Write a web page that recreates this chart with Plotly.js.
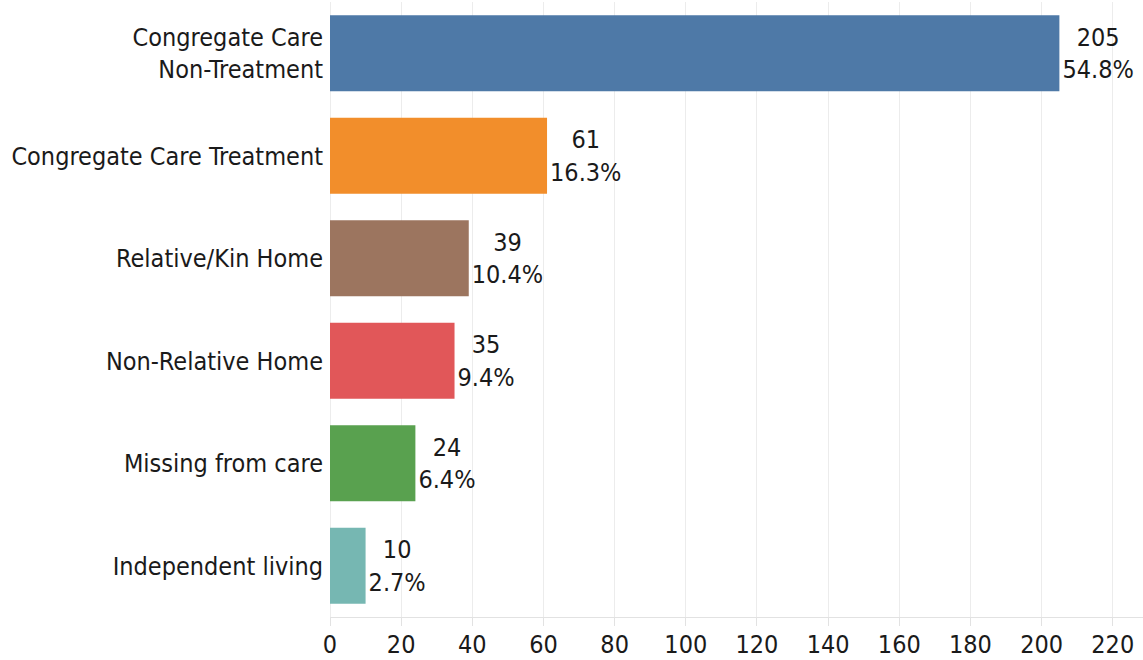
<!DOCTYPE html>
<html>
<head>
<meta charset="utf-8">
<script src="https://cdn.plot.ly/plotly-3.0.1.min.js"></script>
<style>
  html, body { margin: 0; padding: 0; background: #fff; }
  #chart { width: 1143px; height: 660px; }
</style>
</head>
<body>
<div id="chart"></div>
<script>
var categories = ['Congregate Care<br>Non-Treatment', 'Congregate Care Treatment', 'Relative/Kin Home',
  'Non-Relative Home', 'Missing from care', 'Independent living'];
var counts = [205, 61, 39, 35, 24, 10];
var percents = ['54.8%', '16.3%', '10.4%', '9.4%', '6.4%', '2.7%'];
var colors = ['#4e79a7', '#f28e2b', '#9c755f', '#e15759', '#59a14f', '#76b7b2'];
var xTicks = [0, 20, 40, 60, 80, 100, 120, 140, 160, 180, 200, 220];

var labels = counts.map(function (c, i) { return c + '<br>' + percents[i]; });

var font = 'DejaVu Sans Condensed, Arial Narrow, sans-serif';

var trace = {
  type: 'bar',
  orientation: 'h',
  x: counts,
  y: categories,
  text: labels,
  textposition: 'outside',
  cliponaxis: false,
  textfont: {family: font, size: 25, color: '#1a1a1a'},
  marker: {color: colors},
  hoverinfo: 'none'
};

var layout = {
  width: 1143,
  height: 660,
  margin: {l: 330, r: 0, t: 2, b: 43},
  paper_bgcolor: '#fff',
  plot_bgcolor: '#fff',
  showlegend: false,
  bargap: 0.26,
  font: {family: font, size: 25, color: '#1a1a1a'},
  xaxis: {
    range: [0, 228.5],
    tickvals: xTicks,
    showgrid: true,
    gridcolor: '#ececec',
    zeroline: true,
    zerolinecolor: '#ececec',
    showline: true,
    linecolor: '#e2e2e2',
    ticks: 'outside',
    ticklen: 8,
    tickcolor: '#e2e2e2',
    ticklabelstandoff: -3,
    tickfont: {family: font, size: 25, color: '#1a1a1a'}
  },
  yaxis: {
    autorange: 'reversed',
    type: 'category',
    showgrid: false,
    zeroline: false,
    showline: false,
    ticks: '',
    ticklabelstandoff: 6,
    tickfont: {family: font, size: 25, color: '#1a1a1a'}
  }
};

Plotly.newPlot('chart', [trace], layout, {displayModeBar: false, staticPlot: true});
</script>
</body>
</html>
